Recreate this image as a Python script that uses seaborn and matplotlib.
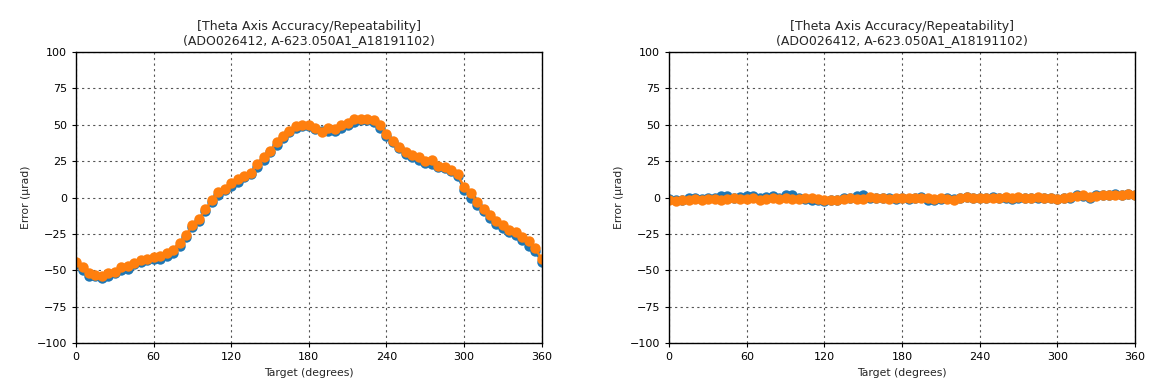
import numpy as np
import pandas as pd
import matplotlib
matplotlib.use("Agg")
import matplotlib.pyplot as plt
import seaborn as sns

# Target positions (degrees), one reading every 5 degrees
target = list(range(0, 361, 5))

# Left panel: error in microradians
left_run1 = [-46, -50, -54, -54, -55, -54, -52, -50, -49, -46,
             -44, -43, -42, -42, -40, -38, -33, -27, -20, -16,
             -9, -3, 2, 5, 8, 11, 14, 16, 21, 26,
             31, 36, 41, 45, 48, 49, 49, 47, 46, 46,
             46, 48, 50, 52, 53, 53, 52, 48, 42, 38,
             34, 30, 28, 26, 24, 23, 21, 20, 18, 15,
             5, 0, -5, -9, -14, -18, -21, -24, -26, -29,
             -33, -37, -44]
left_run2 = [-44, -48, -52, -53, -54, -52, -51, -48, -47, -45,
             -43, -42, -41, -40, -38, -36, -31, -26, -19, -15,
             -8, -2, 4, 6, 10, 13, 15, 17, 23, 28,
             32, 38, 42, 46, 49, 50, 50, 48, 45, 48,
             47, 50, 51, 54, 54, 54, 53, 50, 44, 39,
             35, 31, 29, 28, 25, 26, 22, 21, 19, 16,
             7, 3, -3, -8, -12, -16, -19, -22, -24, -27,
             -30, -35, -42]

# Right panel: error in microradians
right_run1 = [-1, -2, -1.5, -0.5, 0, -1, -0.5, 0, 1, 1,
              0, 0.5, 1, 1, 0, 0.5, 1, 0, 1.5, 2,
              0, -1, -1.5, -2, -2.5, -2, -1.5, -0.5, 0, 1,
              1.5, 0, -0.5, 0, -0.5, -1, 0, -1, -0.5, 0.5,
              -1.5, -1.5, -1, 0, -1, -0.5, 0.5, -0.5, 0, -0.5,
              0.5, 0, 0, -1, 0, -0.5, -0.5, 0, -0.5, -0.5,
              -1, -0.5, 0, 1.5, 1, 0, 1.5, 2, 1.5, 2.5,
              1.5, 2.5, 2]
right_run2 = [-2, -2.5, -2, -1.5, -1, -1.5, -1, -1, -1.5, -1,
              -0.5, -1, -1, -0.5, -1.5, -1, -0.5, -1, 0, -1,
              -1, -0.5, 0, -1, -1.5, -2, -1.5, -1, 0, -1,
              -1, 0.5, 0, -0.5, -1, -0.5, 0, -0.5, -0.5, 0,
              -0.5, -1, -0.5, -1, -1.5, 0, 0.5, 0, 0, -0.5,
              0, 0, 0.5, 0, 0.5, 0, -0.5, 0.5, 0, 0,
              -1, 0, 0.5, 1, 1.5, 0.5, 1, 2, 2, 1.5,
              2, 2.5, 2]

title = "[Theta Axis Accuracy/Repeatability]\n(ADO026412, A-623.050A1_A18191102)"

sns.set_style("ticks")
plt.rcParams['font.family'] = ['DejaVu Sans']
plt.rcParams['font.size'] = 8

fig = plt.figure(figsize=(11.7, 3.9), dpi=100)
ax_left = fig.add_axes([0.065, 0.1205, 0.398, 0.746])
ax_right = fig.add_axes([0.572, 0.1205, 0.398, 0.746])


def draw_panel(ax, run1, run2):
    df = pd.DataFrame({"Target": target * 2,
                       "Error": run1 + run2,
                       "Run": ["run1"] * len(target) + ["run2"] * len(target)})
    sns.lineplot(data=df, x="Target", y="Error", hue="Run",
                 palette=["#1f77b4", "#ff7f0e"], marker="o", markersize=7.5,
                 markeredgewidth=0, linewidth=1.8, legend=False, ax=ax)
    ax.set_xlim(0, 360)
    ax.set_ylim(-100, 100)
    ax.set_xticks(range(0, 361, 60))
    ax.set_yticks(range(-100, 101, 25))
    ax.grid(True, color="#555555", linestyle=(0, (2, 3)), linewidth=0.8)
    ax.set_axisbelow(True)
    for spine in ax.spines.values():
        spine.set_visible(True)
        spine.set_color("black")
        spine.set_linewidth(1.0)
    ax.tick_params(labelsize=8, length=3, width=0.8, colors="black")
    ax.set_xlabel("Target (degrees)", fontsize=7.8)
    ax.set_ylabel("Error (\u03bcrad)", fontsize=7.8)
    ax.set_title(title, fontsize=9, linespacing=1.1)


draw_panel(ax_left, left_run1, left_run2)
draw_panel(ax_right, right_run1, right_run2)

fig.savefig("out.png", dpi=100)
plt.close(fig)
